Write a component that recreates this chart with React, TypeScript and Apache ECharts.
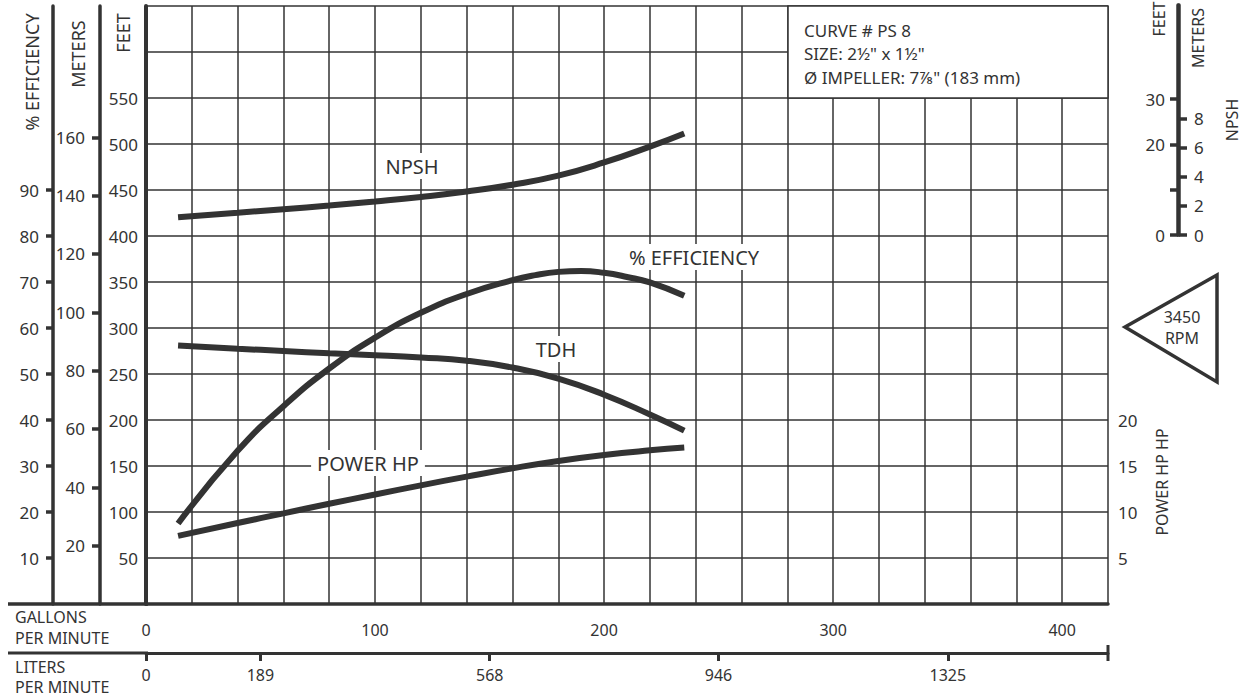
import React, { useEffect, useRef } from 'react';
import * as echarts from 'echarts';

const FONT = '"Noto Sans", sans-serif';
const INK = '#333333';

// axis ticks / labels
const gpmLabels = [0, 100, 200, 300, 400];
const lpmTicks = [0, 189, 568, 946, 1325];
const feetLabels = [50, 100, 150, 200, 250, 300, 350, 400, 450, 500, 550];
const meterTicks = [20, 40, 60, 80, 100, 120, 140, 160];
const effTicks = [10, 20, 30, 40, 50, 60, 70, 80, 90];
const hpLabels = [5, 10, 15, 20];
const npshFeetTicks = [0, 10, 20, 30];
const npshFeetLabels = [0, 20, 30];
const npshMeterTicks = [0, 2, 4, 6, 8];

// curves (x = gallons per minute)
const effGpm = [14, 40, 60, 80, 100, 120, 140, 160, 170, 180, 190, 200, 210, 220, 235];
const effValues = [17.5, 33.3, 43.0, 51.2, 57.9, 63.3, 67.4, 70.4, 71.5, 72.2, 72.4, 72.0, 71.1, 69.9, 67.0];

const tdhGpm = [14, 40, 60, 80, 100, 120, 140, 160, 180, 200, 220, 235];
const tdhFeet = [281, 277.5, 275, 272.5, 270.5, 268, 264.5, 257, 245, 227.5, 206, 188.5];

const npshGpm = [14, 40, 60, 80, 100, 120, 140, 160, 180, 200, 220, 235];
const npshFeet = [3.9, 4.9, 5.7, 6.5, 7.4, 8.4, 9.6, 11.1, 13.1, 16.0, 19.5, 22.4];

const hpGpm = [14, 40, 60, 80, 100, 120, 140, 160, 180, 200, 220, 235];
const hpValues = [7.4, 8.8, 9.85, 10.9, 11.9, 12.9, 13.85, 14.75, 15.55, 16.2, 16.7, 17.0];

const zip = (xs: number[], ys: number[]) => xs.map((x, i) => [x, ys[i]]);

const axisText = { color: INK, fontSize: 17, fontFamily: FONT };
const plainNum = (v: number) => String(v);

function rotText(text: string, x: number, y: number, size: number) {
  return {
    type: 'text',
    x,
    y,
    rotation: Math.PI / 2,
    z: 100,
    style: { text, fill: INK, fontSize: size, fontFamily: FONT, align: 'center', verticalAlign: 'middle' },
  };
}

function plainText(text: string, x: number, y: number, size: number, align = 'left', bg = false) {
  return {
    type: 'text',
    x,
    y,
    z: 100,
    style: {
      text,
      fill: INK,
      fontSize: size,
      fontFamily: FONT,
      align,
      verticalAlign: 'middle',
      ...(bg ? { backgroundColor: '#ffffff', padding: [3, 6] } : {}),
    },
  };
}

function curve(name: string, xs: number[], ys: number[], yAxisIndex: number) {
  return {
    name,
    type: 'line',
    xAxisIndex: 0,
    yAxisIndex,
    data: zip(xs, ys),
    smooth: 0.5,
    symbol: 'none',
    silent: true,
    lineStyle: { color: INK, width: 6, cap: 'butt' },
    z: 5,
  };
}

export default function App() {
  const ref = useRef<HTMLDivElement>(null);

  useEffect(() => {
    const chart = echarts.init(ref.current!, null, { renderer: 'svg' });
    const option: any = {
      animation: false,
      backgroundColor: '#ffffff',
      textStyle: { fontFamily: FONT, color: INK },
      grid: [
        { left: 146, top: 6, width: 962, height: 598 },
        { left: 1178, top: 5, width: 1, height: 230 },
      ],
      xAxis: [
        {
          gridIndex: 0, type: 'value', min: 0, max: 420, interval: 20, position: 'bottom',
          axisLine: { show: true, onZero: false, lineStyle: { color: INK, width: 3.5 } },
          axisTick: { show: false },
          axisLabel: { ...axisText, fontSize: 16, margin: 18, customValues: gpmLabels, formatter: plainNum },
          splitLine: { show: true, lineStyle: { color: INK, width: 1.5 } },
        },
        {
          gridIndex: 0, type: 'value', min: 0, max: 420 * 3.785, position: 'bottom', offset: 49,
          axisLine: { show: true, onZero: false, lineStyle: { color: INK, width: 3 } },
          axisTick: { show: true, customValues: lpmTicks, length: 8, lineStyle: { color: INK, width: 3 } },
          axisLabel: { ...axisText, fontSize: 16, margin: 14, customValues: lpmTicks, formatter: plainNum },
          splitLine: { show: false },
        },
        { gridIndex: 1, type: 'value', min: 0, max: 1, show: false },
      ],
      yAxis: [
        {
          gridIndex: 0, type: 'value', min: 0, max: 650, interval: 50, position: 'left',
          axisLine: { show: true, onZero: false, lineStyle: { color: INK, width: 4 } },
          axisTick: { show: false },
          axisLabel: { ...axisText, margin: 8, customValues: feetLabels, formatter: plainNum },
          splitLine: { show: true, lineStyle: { color: INK, width: 1.5 } },
        },
        {
          gridIndex: 0, type: 'value', min: 0, max: 205, position: 'left', offset: 46,
          axisLine: { show: true, onZero: false, lineStyle: { color: INK, width: 3.5 } },
          axisTick: { show: true, customValues: meterTicks, length: 8, lineStyle: { color: INK, width: 3.5 } },
          axisLabel: { ...axisText, margin: 15, customValues: meterTicks, formatter: plainNum },
          splitLine: { show: false },
        },
        {
          gridIndex: 0, type: 'value', min: 0, max: 130, position: 'left', offset: 93,
          axisLine: { show: true, onZero: false, lineStyle: { color: INK, width: 3.5 } },
          axisTick: { show: true, customValues: effTicks, length: 7, lineStyle: { color: INK, width: 3.5 } },
          axisLabel: { ...axisText, margin: 14, customValues: effTicks, formatter: plainNum },
          splitLine: { show: false },
        },
        {
          gridIndex: 0, type: 'value', min: 0, max: 65, interval: 5, position: 'right',
          axisLine: { show: false },
          axisTick: { show: false },
          axisLabel: { ...axisText, margin: 10, customValues: hpLabels, formatter: plainNum },
          splitLine: { show: false },
        },
        { gridIndex: 0, type: 'value', min: -81.4, max: 50.52, show: false },
        {
          gridIndex: 1, type: 'value', min: 0, max: 50.74, position: 'left',
          axisLine: { show: true, onZero: false, lineStyle: { color: INK, width: 3.5 } },
          axisTick: { show: true, customValues: npshFeetTicks, length: 8, lineStyle: { color: INK, width: 3.5 } },
          axisLabel: { ...axisText, margin: 13, customValues: npshFeetLabels, formatter: plainNum },
          splitLine: { show: false },
        },
        {
          gridIndex: 1, type: 'value', min: 0, max: 15.86, position: 'right',
          axisLine: { show: true, onZero: false, lineStyle: { color: INK, width: 3.5 } },
          axisTick: { show: true, customValues: npshMeterTicks, length: 8, lineStyle: { color: INK, width: 3.5 } },
          axisLabel: { ...axisText, margin: 15, customValues: npshMeterTicks, formatter: plainNum },
          splitLine: { show: false },
        },
      ],
      series: [
        curve('NPSH', npshGpm, npshFeet, 4),
        curve('% EFFICIENCY', effGpm, effValues, 2),
        curve('TDH', tdhGpm, tdhFeet, 0),
        curve('POWER HP', hpGpm, hpValues, 3),
      ],
      graphic: [
        // extensions of the flow rules to the left edge
        { type: 'line', z: 50, shape: { x1: 8, y1: 604, x2: 148, y2: 604 }, style: { stroke: INK, lineWidth: 3.5 } },
        { type: 'line', z: 50, shape: { x1: 8, y1: 653, x2: 148, y2: 653 }, style: { stroke: INK, lineWidth: 3 } },
        { type: 'line', z: 50, shape: { x1: 1108, y1: 645, x2: 1108, y2: 661 }, style: { stroke: INK, lineWidth: 3 } },
        // info box
        { type: 'rect', z: 90, shape: { x: 788, y: 6, width: 320, height: 92 }, style: { fill: '#ffffff', stroke: INK, lineWidth: 1.5 } },
        plainText('CURVE # PS 8', 804, 30, 17),
        plainText('SIZE: 2½" x 1½"', 804, 53, 17),
        plainText('Ø IMPELLER: 7⅞" (183 mm)', 804, 77, 17),
        // speed marker
        {
          type: 'polygon', z: 90,
          shape: { points: [[1125, 327], [1217, 275], [1217, 382]] },
          style: { fill: 'none', stroke: INK, lineWidth: 3.5 },
        },
        plainText('3450', 1182, 317, 16, 'center'),
        plainText('RPM', 1182, 338, 16, 'center'),
        // axis titles
        rotText('% EFFICIENCY', 32, 72, 18),
        rotText('METERS', 78, 54, 18),
        rotText('FEET', 123, 33, 18),
        rotText('FEET', 1159, 19, 16),
        rotText('METERS', 1198, 38, 16),
        rotText('NPSH', 1232, 120, 16),
        rotText('POWER HP HP', 1162, 482, 16),
        plainText('GALLONS', 15, 617, 16),
        plainText('PER MINUTE', 15, 638, 16),
        plainText('LITERS', 15, 667, 16),
        plainText('PER MINUTE', 15, 687, 16),
        // curve labels
        plainText('NPSH', 412, 166, 20, 'center', true),
        plainText('TDH', 556, 349, 20, 'center', true),
        plainText('% EFFICIENCY', 694, 257, 20, 'center', true),
        plainText('POWER HP', 368, 463, 20, 'center', true),
      ],
    };
    chart.setOption(option);
    return () => chart.dispose();
  }, []);

  return (
    <div
      ref={ref}
      style={{ position: 'fixed', left: 0, top: 0, width: 1247, height: 698, background: '#ffffff' }}
    />
  );
}
